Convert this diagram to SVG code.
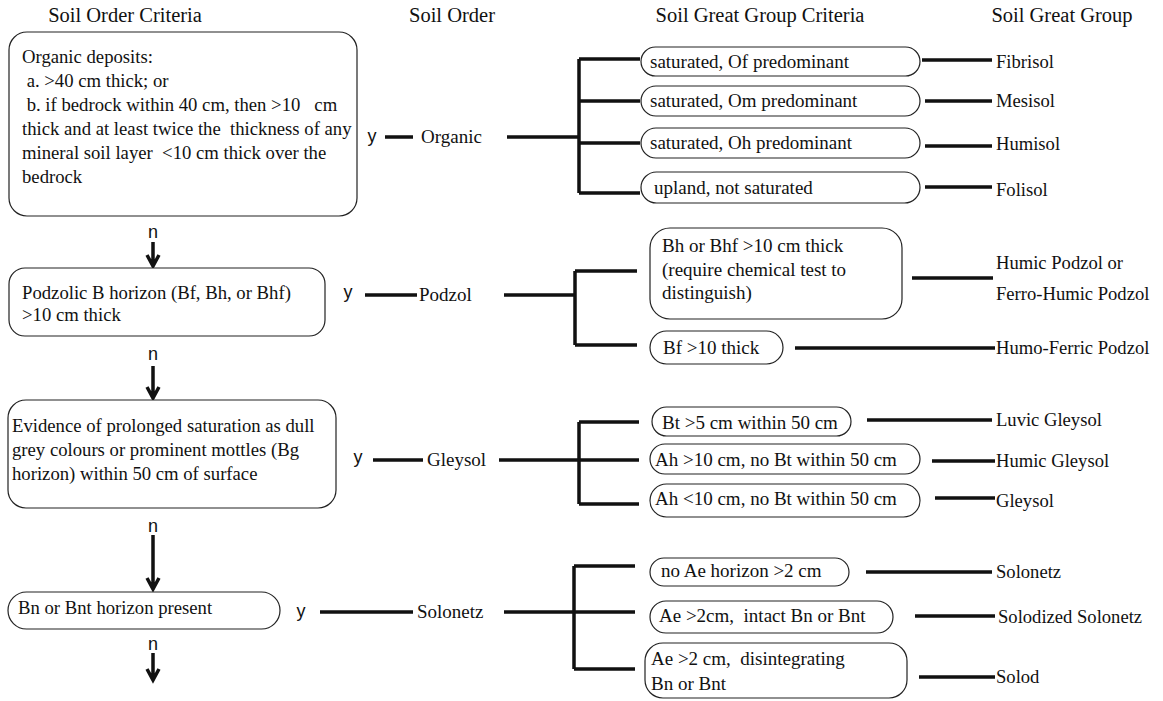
<svg xmlns="http://www.w3.org/2000/svg" width="1163" height="701" viewBox="0 0 1163 701">
<style>
.bx{fill:#fff;stroke:#222;stroke-width:1.2}
.ln{stroke:#111;stroke-width:3.5;fill:none;stroke-linecap:butt}
.ar{stroke:#111;stroke-width:3.5;fill:none}
.h{font-family:"Liberation Serif","Times New Roman",serif;font-size:20.5px;fill:#111}
.t{font-family:"Liberation Serif","Times New Roman",serif;font-size:19px;fill:#111}
.tb{font-family:"Liberation Serif","Times New Roman",serif;font-size:18.7px;fill:#111}
.g{font-family:"Liberation Serif","Times New Roman",serif;font-size:18.6px;fill:#111}
.s{font-family:"Liberation Sans",Arial,sans-serif;font-size:18px;fill:#111}
</style>
<rect width="1163" height="701" fill="#fff"/>
<g id="headers">
<text class="h" x="125" y="22" text-anchor="middle">Soil Order Criteria</text>
<text class="h" x="452" y="22" text-anchor="middle">Soil Order</text>
<text class="h" x="760" y="22" text-anchor="middle">Soil Great Group Criteria</text>
<text class="h" x="1062" y="22" text-anchor="middle">Soil Great Group</text>
</g>
<g id="connectors">
<path class="ln" d="M385,137H413 M507,137H579 M579,59V193 M579,59H640 M579,101H640 M579,143H640 M579,193H640"/>
<path class="ln" d="M922,60H992 M925,101H992 M925,146H992 M925,187H992"/>
<path class="ln" d="M365,295H417 M504,295H575 M575,271V345 M575,271H637 M575,345H637 M912,278H993 M795,348H995"/>
<path class="ln" d="M373,460H423 M499,460H579 M579,422V504 M579,422H639 M579,460H639 M579,504H639 M867,420H992 M932,461H995 M935,498H995"/>
<path class="ln" d="M320,612H413 M504,612H575 M574,566V669 M574,566H635 M574,612H635 M574,669H635 M866,572H992 M915,616H995 M919,677H995"/>
<path class="ar" d="M153,242V265 M147,255L153,266L159,255"/>
<path class="ar" d="M153,366V397 M147,387L153,398L159,387"/>
<path class="ar" d="M153,535V588 M147,578L153,589L159,578"/>
<path class="ar" d="M153,653V679 M147,669L153,680L159,669"/>
</g>
<g id="n-labels">
<text class="s" x="153" y="238" text-anchor="middle">n</text>
<text class="s" x="153" y="360" text-anchor="middle">n</text>
<text class="s" x="153" y="532" text-anchor="middle">n</text>
<text class="s" x="153" y="650" text-anchor="middle">n</text>
<text class="s" x="372" y="142" text-anchor="middle">y</text>
<text class="s" x="348" y="298" text-anchor="middle">y</text>
<text class="s" x="358" y="463" text-anchor="middle">y</text>
<text class="s" x="301" y="617" text-anchor="middle">y</text>
</g>
<g id="organic-criteria">
<rect class="bx" x="9" y="32" width="348" height="184" rx="18"/>
<text class="tb" xml:space="preserve"><tspan x="22" y="63">Organic deposits:</tspan><tspan x="22" y="87"> a. &gt;40 cm thick; or</tspan><tspan x="22" y="111"> b. if bedrock within 40 cm, then &gt;10   cm</tspan><tspan x="22" y="135">thick and at least twice the  thickness of any</tspan><tspan x="22" y="159">mineral soil layer  &lt;10 cm thick over the</tspan><tspan x="22" y="183">bedrock</tspan></text>
</g>
<g id="organic"><text class="t" x="421" y="143">Organic</text></g>
<g id="of-box"><rect class="bx" x="641" y="47" width="279" height="29" rx="14.5"/><text class="t" x="650" y="68">saturated, Of predominant</text></g>
<g id="om-box"><rect class="bx" x="641" y="86" width="279" height="30" rx="15"/><text class="t" x="650" y="107">saturated, Om predominant</text></g>
<g id="oh-box"><rect class="bx" x="641" y="128" width="279" height="30" rx="15"/><text class="t" x="650" y="149">saturated, Oh predominant</text></g>
<g id="upland-box"><rect class="bx" x="641" y="172" width="279" height="31" rx="15.5"/><text class="t" x="654" y="194">upland, not saturated</text></g>
<g id="fibrisol"><text class="g" x="996" y="68">Fibrisol</text></g>
<g id="mesisol"><text class="g" x="996" y="107">Mesisol</text></g>
<g id="humisol"><text class="g" x="996" y="150">Humisol</text></g>
<g id="folisol"><text class="g" x="996" y="196">Folisol</text></g>

<g id="podzolic-criteria">
<rect class="bx" x="9" y="268" width="316" height="68" rx="16"/>
<text class="tb"><tspan x="22" y="299">Podzolic B horizon (Bf, Bh, or Bhf)</tspan><tspan x="22" y="321">&gt;10 cm thick</tspan></text>
</g>
<g id="podzol"><text class="t" x="419" y="301">Podzol</text></g>
<g id="bh-box"><rect class="bx" x="650" y="228" width="252" height="91" rx="20"/><text class="t"><tspan x="662" y="252">Bh or Bhf &gt;10 cm thick</tspan><tspan x="662" y="276">(require chemical test to</tspan><tspan x="662" y="299">distinguish)</tspan></text></g>
<g id="bf-box"><rect class="bx" x="650" y="331" width="133" height="33" rx="16.5"/><text class="t" x="663" y="354">Bf &gt;10 thick</text></g>
<g id="humic-podzol"><text class="g"><tspan x="996" y="269">Humic Podzol or</tspan><tspan x="996" y="300">Ferro-Humic Podzol</tspan></text></g>
<g id="humo-ferric-podzol"><text class="g" x="996" y="354">Humo-Ferric Podzol</text></g>

<g id="gleysolic-criteria">
<rect class="bx" x="8" y="400" width="328" height="108" rx="18"/>
<text class="tb"><tspan x="12" y="432">Evidence of prolonged saturation as dull</tspan><tspan x="12" y="456">grey colours or prominent mottles (Bg</tspan><tspan x="12" y="480">horizon) within 50 cm of surface</tspan></text>
</g>
<g id="gleysol-order"><text class="t" x="427" y="466">Gleysol</text></g>
<g id="bt-box"><rect class="bx" x="652" y="407" width="199" height="29" rx="14.5"/><text class="t" x="662" y="429">Bt &gt;5 cm within 50 cm</text></g>
<g id="ah-gt-box"><rect class="bx" x="650" y="444" width="270" height="30" rx="15"/><text class="t" x="655" y="466">Ah &gt;10 cm, no Bt within 50 cm</text></g>
<g id="ah-lt-box"><rect class="bx" x="650" y="484" width="270" height="33" rx="16.5"/><text class="t" x="655" y="505">Ah &lt;10 cm, no Bt within 50 cm</text></g>
<g id="luvic-gleysol"><text class="g" x="996" y="426">Luvic Gleysol</text></g>
<g id="humic-gleysol"><text class="g" x="996" y="467">Humic Gleysol</text></g>
<g id="gleysol"><text class="g" x="996" y="507">Gleysol</text></g>

<g id="solonetzic-criteria">
<rect class="bx" x="8" y="592" width="272" height="37" rx="18.5"/>
<text class="tb" x="18" y="614">Bn or Bnt horizon present</text>
</g>
<g id="solonetz-order"><text class="t" x="417" y="618">Solonetz</text></g>
<g id="noae-box"><rect class="bx" x="650" y="558" width="199" height="28" rx="14"/><text class="t" x="661" y="577">no Ae horizon &gt;2 cm</text></g>
<g id="intact-box"><rect class="bx" x="650" y="601" width="243" height="32" rx="16"/><text class="t" x="659" y="622" xml:space="preserve">Ae &gt;2cm,  intact Bn or Bnt</text></g>
<g id="disint-box"><rect class="bx" x="645" y="643" width="262" height="55" rx="18"/><text class="t" xml:space="preserve"><tspan x="651" y="665">Ae &gt;2 cm,  disintegrating</tspan><tspan x="651" y="690">Bn or Bnt</tspan></text></g>
<g id="solonetz"><text class="g" x="996" y="578">Solonetz</text></g>
<g id="solodized-solonetz"><text class="g" x="998" y="623">Solodized Solonetz</text></g>
<g id="solod"><text class="g" x="996" y="683">Solod</text></g>
</svg>
